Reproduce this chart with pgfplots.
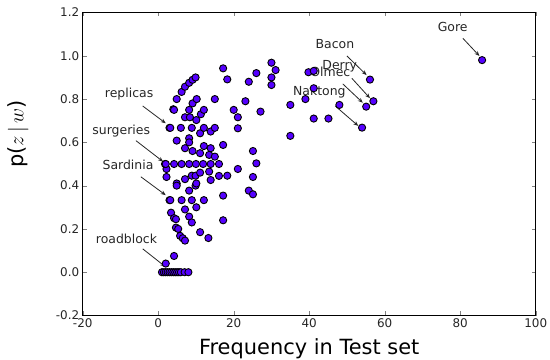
\documentclass[border=0pt]{standalone}
\usepackage{fontspec}
\setmainfont{DejaVu Sans}
\usepackage{pgfplots}
\pgfplotsset{compat=1.18}
\usetikzlibrary{arrows.meta}
\definecolor{pt}{RGB}{85,0,255}
\begin{document}
\begin{tikzpicture}
\begin{axis}[
  scale only axis, width=453bp, height=303bp,
  xmin=-20, xmax=100, ymin=-0.2, ymax=1.2,
  xtick={-20,0,20,40,60,80,100},
  ytick={-0.2,0,0.2,0.4,0.6,0.8,1.0,1.2},
  yticklabel style={/pgf/number format/fixed,/pgf/number format/fixed zerofill,/pgf/number format/precision=1},
  /pgf/number format/assume math mode=true,
  tick label style={font=\fontsize{12}{14}\selectfont, text=black!85},
  tick align=inside, major tick length=4bp,
  axis line style={black, line width=0.8bp},
  xlabel={Frequency in Test set},
  ylabel={p($z\,|\,w$)},
  xlabel style={font=\fontsize{21}{24}\selectfont, at={(axis description cs:0.5,-0.13)}, anchor=base},
  ylabel style={font=\fontsize{21}{24}\selectfont, at={(axis description cs:-0.143,0.6)}, anchor=center},
  clip=false,
]
\addplot[only marks, mark=*, mark size=3.6bp, mark options={fill=pt, draw=black, line width=0.9bp}] coordinates {
(1,0) (1.5,0) (2,0) (2.5,0) (3,0) (3.5,0) (4,0) (4.5,0) (5,0) (5.5,0) (6,0) (7,0) (8,0)
(2,0.04) (4.2,0.075)
(3.4,0.275) (4.2,0.25) (4.7,0.245) (8.2,0.257) (8.9,0.23) (4.7,0.206) (5.3,0.20) (5.8,0.168) (6.5,0.157) (7.1,0.146)
(11.1,0.185) (13.3,0.158) (17.2,0.24) (7.1,0.29) (10.1,0.30)
(3.0,0.333) (3.2,0.333) (6.2,0.333) (8.9,0.333) (12.1,0.333) (17.2,0.354)
(4.9,0.41) (4.9,0.40) (7.1,0.43) (8.9,0.446) (9.9,0.446) (11.1,0.46) (13.5,0.465) (13.9,0.426) (16.1,0.445) (18.3,0.446)
(9.9,0.40) (10.1,0.41) (8.2,0.377) (2.2,0.44) (2.2,0.477) (24,0.377) (25.1,0.36) (25.1,0.44) (21.1,0.477)
(1.8,0.5) (2.0,0.5) (4.2,0.5) (6.2,0.5) (8.2,0.5) (10,0.5) (11.9,0.5) (13.9,0.5) (16.1,0.5) (26,0.503)
(11.1,0.55) (13.5,0.542) (15,0.534) (9.1,0.56) (7.1,0.573) (12.1,0.583) (13.9,0.573) (17.2,0.588) (25.1,0.56)
(4.9,0.608) (8.2,0.619) (8.2,0.60) (11.1,0.642) (13.9,0.65)
(3.0,0.667) (3.2,0.667) (6.0,0.667) (8.9,0.667) (12.1,0.667) (15,0.667) (21.1,0.665)
(10.1,0.703) (7.1,0.716) (8.4,0.716) (11.3,0.73) (21.1,0.716)
(4.0,0.753) (4.2,0.75) (8.2,0.75) (12.1,0.75) (9.1,0.78) (20,0.75) (23.1,0.79) (27.1,0.742)
(10.2,0.80) (15,0.80)
(4.9,0.80) (6.2,0.833) (7.1,0.857) (8.2,0.875) (9.1,0.889) (9.9,0.90)
(17.2,0.942) (18.3,0.891) (24,0.88) (26,0.92) (30,0.968) (31.1,0.934) (30,0.90) (30,0.865)
(39.8,0.924) (41.2,0.93) (41.2,0.85) (39,0.80) (35,0.773) (48,0.773) (41.2,0.71) (45.1,0.71) (35,0.63)
(56.1,0.89) (57,0.79) (55.1,0.765) (54,0.668) (85.8,0.98)
};
\begin{scope}[every node/.style={font=\fontsize{12.5}{14}\selectfont, text=black!85}]
\node at (axis cs:78.0,1.134) {Gore};
\node at (axis cs:46.8,1.056) {Bacon};
\node at (axis cs:48.1,0.950) {Derry};
\node at (axis cs:45.6,0.924) {Olmec};
\node at (axis cs:42.7,0.831) {Naktong};
\node at (axis cs:-7.7,0.824) {replicas};
\node at (axis cs:-9.8,0.654) {surgeries};
\node at (axis cs:-8.0,0.496) {Sardinia};
\node at (axis cs:-8.4,0.154) {roadblock};
\end{scope}
\begin{scope}[-{Stealth[length=5bp,width=4bp]}, line width=0.8bp, black!85]
\draw (axis cs:80.7,1.081) -- (axis cs:85.1,0.999);
\draw (axis cs:50,0.999) -- (axis cs:55.2,0.911);
\draw (axis cs:51.3,0.896) -- (axis cs:56.1,0.804);
\draw (axis cs:48.9,0.87) -- (axis cs:54.2,0.783);
\draw (axis cs:46.9,0.768) -- (axis cs:53,0.676);
\draw (axis cs:-4.1,0.768) -- (axis cs:2.0,0.688);
\draw (axis cs:-5.9,0.608) -- (axis cs:1.3,0.511);
\draw (axis cs:-4.6,0.441) -- (axis cs:2.0,0.356);
\draw (axis cs:-4.1,0.108) -- (axis cs:1.85,0.026);
\end{scope}
\end{axis}
\pgfresetboundingbox
\path ([shift={(-82.7bp,-44.3bp)}]current axis.south west) rectangle ([shift={(14.3bp,12.5bp)}]current axis.north east);
\end{tikzpicture}
\end{document}
